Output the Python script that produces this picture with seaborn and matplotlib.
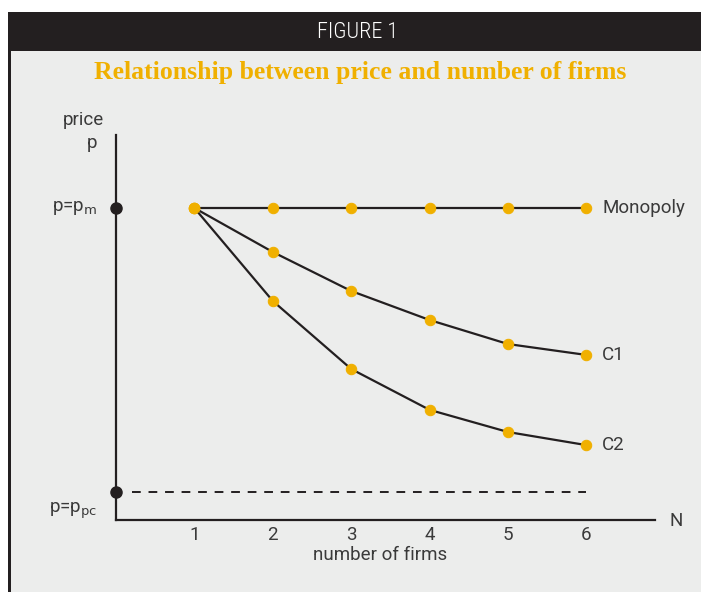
import pandas as pd
import numpy as np
import seaborn as sns
import matplotlib.pyplot as plt
from matplotlib.patches import Rectangle

# Data (price in arbitrary units, p_m = 10)
firms = [1, 2, 3, 4, 5, 6]
monopoly = [10.0, 10.0, 10.0, 10.0, 10.0, 10.0]
c1 = [10.0, 8.59, 7.34, 6.41, 5.64, 5.29]
c2 = [10.0, 7.02, 4.84, 3.53, 2.82, 2.40]
p_m = 10.0
p_pc = 0.9
series_names = ["Monopoly", "C1", "C2"]

df = pd.DataFrame({
    "N": firms * 3,
    "price": monopoly + c1 + c2,
    "series": np.repeat(series_names, len(firms)),
})

sns.set_style("white")
plt.rcParams['font.family'] = ['Roboto', 'DejaVu Sans']

W, H = 701, 592
fig = plt.figure(figsize=(W / 100, H / 100), dpi=100)
fig.patch.set_facecolor("white")

dark = "#231f20"
gold = "#f0b000"
txt = "#3a3a3a"

# panel background, left border, header bar
fig.patches.append(Rectangle((11 / W, 0), 1, (H - 51) / H, transform=fig.transFigure,
                             facecolor="#ecedec", edgecolor="none", zorder=-10))
fig.patches.append(Rectangle((8 / W, 0), 3 / W, (H - 12) / H, transform=fig.transFigure,
                             facecolor=dark, edgecolor="none", zorder=-10))
fig.patches.append(Rectangle((8 / W, (H - 51) / H), 1, 39 / H, transform=fig.transFigure,
                             facecolor=dark, edgecolor="none", zorder=-10))
fig.text(358 / W, 1 - 32 / H, "FIGURE 1", color="white", fontsize=16, fontweight="light",
         ha="center", va="center", family=['Roboto Condensed', 'Roboto', 'DejaVu Sans'])
fig.text(360 / W, 1 - 72 / H, "Relationship between price and number of firms",
         color=gold, fontsize=18.5, fontweight="bold", ha="center", va="center",
         family=['Liberation Serif', 'DejaVu Serif'])

# axes placed so that x=0 is the y axis and y=0 is the x axis
ax = fig.add_axes([116 / W, 72 / H, (655 - 116) / W, (520 - 135) / H], zorder=1)
ax.set_facecolor("none")

for name in series_names:
    sns.lineplot(data=df[df["series"] == name], x="N", y="price", ax=ax,
                 color=dark, linewidth=1.6, marker="o", markersize=7.5,
                 markerfacecolor=gold, markeredgecolor=gold, zorder=3)

ax.plot([0.2, 6], [p_pc, p_pc], color=dark, linewidth=1.4, linestyle=(0, (4.5, 4)))
ax.plot([0, 0], [p_m, p_pc], linestyle="none", marker="o", markersize=8,
        color=dark, clip_on=False, zorder=5)

ax.set_xlim(0, 6.875)
ax.set_ylim(0, 12.34)
ax.set_xticks(firms)
ax.set_yticks([])
ax.set_xlabel("")
ax.set_ylabel("")
for s in ["top", "right"]:
    ax.spines[s].set_visible(False)
for s in ["left", "bottom"]:
    ax.spines[s].set_color(dark)
    ax.spines[s].set_linewidth(1.6)
ax.tick_params(axis="x", direction="in", length=6, width=1.4, color=dark,
               labelsize=13.5, labelcolor=txt, pad=4)

# text labels
fs = 13.5
ax.text(6.2, monopoly[-1], "Monopoly", fontsize=fs, color=txt, va="center")
ax.text(6.2, c1[-1], "C1", fontsize=fs, color=txt, va="center")
ax.text(6.2, c2[-1], "C2", fontsize=fs, color=txt, va="center")
fig.text(104 / W, 1 - 120 / H, "price", fontsize=fs, color=txt, ha="right", va="center")
fig.text(97 / W, 1 - 143 / H, "p", fontsize=fs, color=txt, ha="right", va="center")
fig.text(97 / W, 1 - 208 / H, r"p=p$_{\mathrm{m}}$", fontsize=fs, color=txt,
         ha="right", va="center")
fig.text(97 / W, 1 - 511 / H, r"p=p$_{\mathrm{pc}}$", fontsize=fs, color=txt,
         ha="right", va="center")
fig.text(676 / W, 1 - 521 / H, "N", fontsize=fs, color=txt, ha="center", va="center")
fig.text(380 / W, 1 - 555 / H, "number of firms", fontsize=fs, color=txt,
         ha="center", va="center")

plt.savefig("out.png", dpi=100)
plt.close()
